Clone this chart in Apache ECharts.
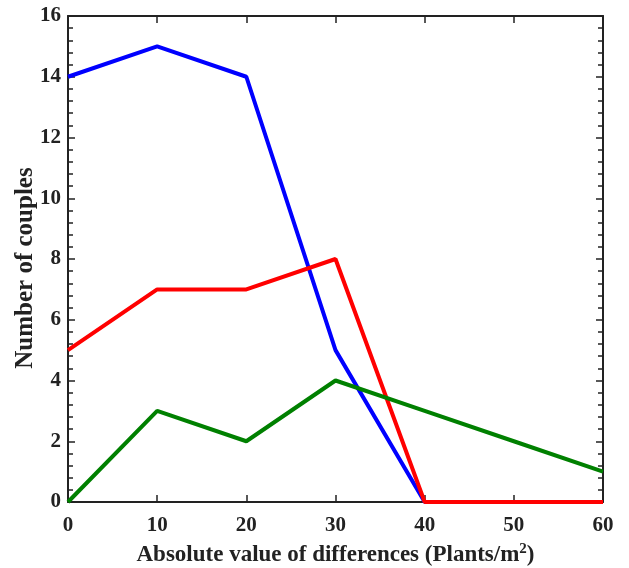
<!DOCTYPE html>
<html>
<head>
<meta charset="utf-8">
<script src="https://cdn.jsdelivr.net/npm/echarts@6/dist/echarts.min.js"></script>
<style>
  html, body { margin: 0; padding: 0; background: #fff; }
  #chart { width: 629px; height: 568px; }
</style>
</head>
<body>
<div id="chart"></div>
<script>
// Absolute difference in plant density (Plants/m^2)
const differences = [0, 10, 20, 30, 40, 50, 60];
// Number of couples per difference class, one array per series
const blueCounts  = [14, 15, 14, 5, 0, 0, 0];
const redCounts   = [5, 7, 7, 8, 0, 0, 0];
const greenCounts = [0, 3, 2, 4, 3, 2, 1];

const FONT = 'Liberation Serif';
const AXIS_COLOR = '#222222';

const chart = echarts.init(document.getElementById('chart'), null, { renderer: 'canvas' });

function pairs(values) {
  return differences.map((x, i) => [x, values[i]]);
}

const labelStyle = {
  fontFamily: FONT, fontWeight: 'bold', fontSize: 21, color: AXIS_COLOR
};

const tickStyle = { color: AXIS_COLOR, width: 1.5 };

const frameAxis = {
  axisLine: { show: true, onZero: false, lineStyle: { color: AXIS_COLOR, width: 2 } },
  splitLine: { show: false }
};

chart.setOption({
  animation: false,
  backgroundColor: '#fff',
  grid: { left: 68, right: 26, top: 16, bottom: 66, containLabel: false, outerBoundsMode: 'none' },
  xAxis: [
    Object.assign({
      type: 'value', min: 0, max: 60, interval: 10, position: 'bottom',
      axisTick: { show: true, inside: true, length: 7, lineStyle: tickStyle },
      axisLabel: Object.assign({ margin: 13 }, labelStyle),
      name: '{b|Absolute value of differences (Plants/m}{sup|2}{b|)}',
      nameLocation: 'middle',
      nameGap: 40,
      nameMoveOverlap: false,
      nameTextStyle: {
        rich: {
          b: { fontFamily: FONT, fontWeight: 'bold', fontSize: 23, color: AXIS_COLOR },
          sup: { fontFamily: FONT, fontWeight: 'bold', fontSize: 15, color: AXIS_COLOR, verticalAlign: 'top', padding: [0, 0, 12, 0] }
        }
      }
    }, frameAxis),
    Object.assign({
      type: 'value', min: 0, max: 60, interval: 10, position: 'top',
      axisTick: { show: true, inside: true, length: 7, lineStyle: tickStyle },
      axisLabel: { show: false }
    }, frameAxis)
  ],
  yAxis: [
    Object.assign({
      type: 'value', min: 0, max: 16, interval: 2, position: 'left',
      axisTick: { show: true, inside: true, length: 7, lineStyle: tickStyle },
      minorTick: { show: true, splitNumber: 5, length: 5, lineStyle: tickStyle },
      axisLabel: Object.assign({ margin: 7 }, labelStyle),
      name: 'Number of couples',
      nameLocation: 'middle',
      nameGap: 30,
      nameMoveOverlap: false,
      nameTextStyle: { fontFamily: FONT, fontWeight: 'bold', fontSize: 25, color: AXIS_COLOR, padding: [0, 18, 0, 0] }
    }, frameAxis),
    Object.assign({
      type: 'value', min: 0, max: 16, interval: 2, position: 'right',
      axisTick: { show: true, inside: true, length: 7, lineStyle: tickStyle },
      minorTick: { show: true, splitNumber: 5, length: 5, lineStyle: tickStyle },
      axisLabel: { show: false }
    }, frameAxis)
  ],
  series: [
    { type: 'line', data: pairs(blueCounts), symbol: 'none', z: 2,
      lineStyle: { color: '#0000ff', width: 4 }, clip: false },
    { type: 'line', data: pairs(redCounts), symbol: 'none', z: 3,
      lineStyle: { color: '#ff0000', width: 4 }, clip: false },
    { type: 'line', data: pairs(greenCounts), symbol: 'none', z: 4,
      lineStyle: { color: '#008000', width: 4 }, clip: false }
  ]
});
</script>
</body>
</html>
